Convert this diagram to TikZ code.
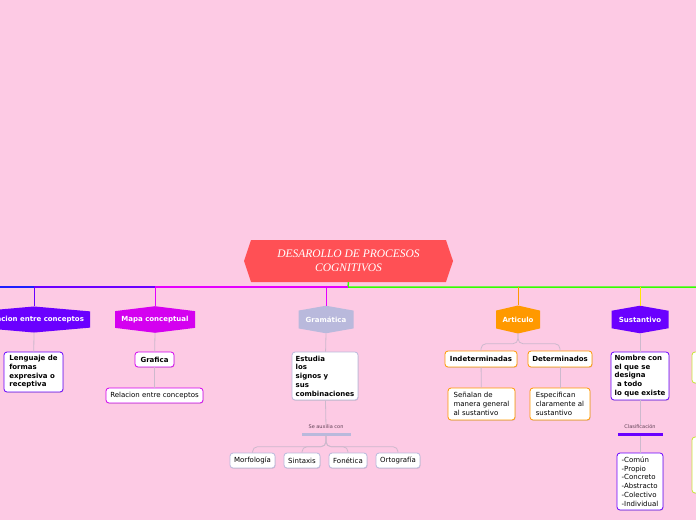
\documentclass[tikz,border=0pt]{standalone}
\usepackage{fontspec}
\setmainfont{DejaVu Sans}
\newfontfamily\titlefont{Liberation Serif}
\usetikzlibrary{shapes.symbols,shadows}

\definecolor{cbg}{RGB}{253,202,228}
\definecolor{cred}{RGB}{255,80,85}
\definecolor{cviolet}{RGB}{106,0,255}
\definecolor{cmag}{RGB}{212,0,240}
\definecolor{cmagline}{RGB}{228,0,255}
\definecolor{clav}{RGB}{185,185,220}
\definecolor{corange}{RGB}{255,153,0}
\definecolor{cgreen}{RGB}{51,255,0}
\definecolor{cblue}{RGB}{30,30,255}
\definecolor{cyellow}{RGB}{255,230,0}
\definecolor{clime}{RGB}{200,230,50}
\definecolor{cgrey}{RGB}{205,185,205}
\definecolor{cnote}{RGB}{95,65,85}

\begin{document}
\begin{tikzpicture}[x=1pt,y=-1pt,
  topic/.style={shape=signal, signal to=north and south, fill=#1, text=white,
    font=\bfseries\fontsize{7}{8}\selectfont, inner sep=0pt, minimum height=25pt},
  leafbox/.style={draw=#1, fill=white, rounded corners=3pt, line width=0.8pt,
    align=left, inner sep=0pt, font=\fontsize{7}{8.7}\selectfont,
    drop shadow={shadow xshift=0.5pt, shadow yshift=-0.8pt, opacity=0.25}},
  boldbox/.style={leafbox=#1, font=\bfseries\fontsize{7}{8.7}\selectfont},
  link/.style={draw=cgrey, line width=0.8pt},
  note/.style={text=cnote, font=\fontsize{5}{6}\selectfont, inner sep=0pt},
  notebar/.style={fill=#1, minimum height=3pt, inner sep=0pt}]

  \useasboundingbox (0,0) rectangle (696,520);
  \fill[cbg] (0,0) rectangle (696,520);

  % central topic
  \node[shape=signal, signal to=west and east, signal pointer angle=143,
    fill=cred, text=white, align=center, minimum width=209pt, minimum height=42pt,
    font=\titlefont\itshape\fontsize{11.5}{13.5}\selectfont] (cent) at (348.5,261)
    {DESAROLLO DE PROCESOS\\COGNITIVOS};

  % main topics
  \node[topic=cviolet, minimum width=112pt, signal pointer angle=170] (rela) at (34,319.5) {Relacion entre conceptos};
  \node[topic=cmag, minimum width=80pt, signal pointer angle=166] (mapa) at (155,319.5) {Mapa conceptual};
  \node[topic=clav, minimum width=55pt, signal pointer angle=160] (gram) at (326,319.5) {Gramática};
  \node[topic=corange, minimum width=44pt, signal pointer angle=154] (arti) at (518,319.5) {Articulo};
  \node[topic=cviolet, minimum width=57pt, signal pointer angle=160] (sust) at (640,319.5) {Sustantivo};

  % branch lines
  \coordinate (hub) at (348,287);
  \draw[cgreen, line width=1.5pt] (cent.south) -- (hub) -- (696,287);
  \draw[cmagline, line width=1.5pt] (hub) -- (155,287);
  \draw[cviolet, line width=1.5pt] (155,287) -- (34,287);
  \draw[cblue, line width=1.5pt] (34,287) -- (0,287);
  \draw[cviolet, line width=0.8pt] (hub -| rela.north) -- (rela.north);
  \draw[cmagline, line width=0.8pt] (hub -| mapa.north) -- (mapa.north);
  \draw[cmagline, line width=0.8pt] (hub -| gram.north) -- (gram.north);
  \draw[corange, line width=0.8pt] (hub -| arti.north) -- (arti.north);
  \draw[cyellow, line width=0.8pt] (hub -| sust.north) -- (sust.north);

  % Relacion entre conceptos
  \node[boldbox=cviolet, minimum width=59pt, minimum height=40pt] (leng) at (33.5,372)
    {Lenguaje de\\formas\\expresiva o\\receptiva};
  \draw[link] (rela.south) -- (leng);

  % Mapa conceptual
  \node[boldbox=cmag, minimum width=39pt, minimum height=15pt] (graf) at (154.5,359.5) {Grafica};
  \node[leafbox=cmag, minimum width=97pt, minimum height=15pt] (relc) at (154.5,395.5) {Relacion entre conceptos};
  \draw[link] (mapa.south) -- (graf);
  \draw[link] (graf) -- (relc);

  % Gramatica
  \node[boldbox=clav, minimum width=66pt, minimum height=48pt] (estu) at (325,376)
    {Estudia\\los\\signos y\\sus\\combinaciones};
  \node[note] (auxi) at (326,427) {Se auxilia con};
  \node[notebar=clav, minimum width=49pt] (auxbar) at (326,434) {};
  \node[leafbox=clav, minimum width=45pt, minimum height=15pt] (morf) at (252.5,460.5) {Morfología};
  \node[leafbox=clav, minimum width=36pt, minimum height=15pt] (sint) at (302,460.5) {Sintaxis};
  \node[leafbox=clav, minimum width=38pt, minimum height=15pt] (fone) at (348,460.5) {Fonética};
  \node[leafbox=clav, minimum width=44pt, minimum height=15pt] (orto) at (398,460.5) {Ortografía};
  \draw[link] (gram.south) -- (estu);
  \draw[link] (estu) -- (auxi);
  \foreach \leaf in {morf,sint,fone,orto}
    \draw[link, rounded corners=5pt] (auxbar.south) -- ++(0,11) -| (\leaf.north);

  % Articulo
  \node[boldbox=corange, minimum width=72pt, minimum height=16pt] (inde) at (481,359) {Indeterminadas};
  \node[boldbox=corange, minimum width=64pt, minimum height=16pt] (dete) at (560,359) {Determinados};
  \node[leafbox=corange, minimum width=67pt, minimum height=32pt] (sena) at (481.5,404)
    {Señalan de\\manera general\\al sustantivo};
  \node[leafbox=corange, minimum width=60pt, minimum height=32pt] (espe) at (560,404)
    {Especifican\\claramente al\\sustantivo};
  \draw[link, rounded corners=5pt] (arti.south) -- ++(0,10) -| (inde.north);
  \draw[link, rounded corners=5pt] (arti.south) -- ++(0,10) -| (dete.north);
  \draw[link] (inde) -- (sena);
  \draw[link] (dete) -- (espe);

  % Sustantivo
  \node[boldbox=cviolet, minimum width=58pt, minimum height=48pt] (nomb) at (640,376)
    {Nombre con\\el que se\\designa\\\ a todo\\lo que existe};
  \node[note] (clas) at (640,427) {Clasificación};
  \node[notebar=cviolet, minimum width=45pt] (clasbar) at (640,434) {};
  \node[leafbox=cviolet, minimum width=46pt, minimum height=57pt] (tipo) at (640,481.5)
    {-Común\\-Propio\\-Concreto\\-Abstracto\\-Colectivo\\-Individual};
  \draw[link] (sust.south) -- (nomb);
  \draw[link] (nomb) -- (clas);
  \draw[link] (clasbar) -- (tipo);

  % boxes cut by the right edge
  \node[leafbox=clime, minimum width=40pt, minimum height=31pt] (rgtone) at (712,367.5) {};
  \node[leafbox=clime, minimum width=40pt, minimum height=56pt] (rgttwo) at (712,465) {};
\end{tikzpicture}
\end{document}
